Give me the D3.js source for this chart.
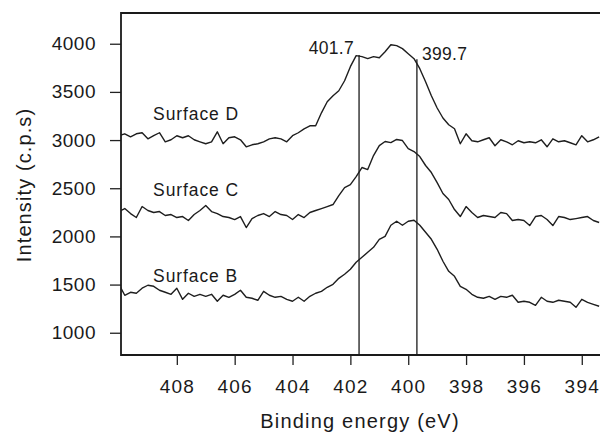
<!DOCTYPE html>
<html>
<head>
<meta charset="utf-8">
<script src="https://cdn.jsdelivr.net/npm/d3@7"></script>
<style>
  body { margin: 0; background: #fff; }
  text { font-family: "Liberation Sans", Arial, sans-serif; fill: #1a1a1a; }
</style>
</head>
<body>
<svg id="chart" width="600" height="434"></svg>
<script>
// Data (binding energy in eV, intensity in c.p.s)
var energy = [410.0, 409.8, 409.6, 409.4, 409.2, 409.0, 408.8, 408.6, 408.4, 408.2,
  408.0, 407.8, 407.6, 407.4, 407.2, 407.0, 406.8, 406.6, 406.4, 406.2,
  406.0, 405.8, 405.6, 405.4, 405.2, 405.0, 404.8, 404.6, 404.4, 404.2,
  404.0, 403.8, 403.6, 403.4, 403.2, 403.0, 402.8, 402.6, 402.4, 402.2,
  402.0, 401.8, 401.6, 401.4, 401.2, 401.0, 400.8, 400.6, 400.4, 400.2,
  400.0, 399.8, 399.6, 399.4, 399.2, 399.0, 398.8, 398.6, 398.4, 398.2,
  398.0, 397.8, 397.6, 397.4, 397.2, 397.0, 396.8, 396.6, 396.4, 396.2,
  396.0, 395.8, 395.6, 395.4, 395.2, 395.0, 394.8, 394.6, 394.4, 394.2,
  394.0, 393.8, 393.6, 393.4]

var surfaceD = [3045, 3065, 3034, 3065, 3076, 3013, 3045, 3076, 2982, 3003,
  3045, 3024, 3045, 3003, 2982, 2962, 2982, 3086, 2962, 3024,
  3034, 3003, 2930, 2951, 2962, 2982, 3013, 3024, 3013, 2982,
  3045, 3076, 3117, 3148, 3148, 3283, 3398, 3460, 3512, 3616,
  3762, 3876, 3866, 3845, 3866, 3855, 3917, 3990, 3980, 3949,
  3897, 3845, 3741, 3606, 3460, 3333, 3229, 3159, 3117, 2962,
  3065, 2993, 2982, 3003, 3024, 2941, 3003, 2982, 2951, 2993,
  2972, 2982, 2972, 3003, 2930, 3013, 2982, 2993, 2972, 2951,
  3045, 2982, 3003, 3034]

var surfaceC = [2258, 2289, 2237, 2196, 2310, 2269, 2248, 2258, 2217, 2227,
  2196, 2206, 2165, 2227, 2269, 2320, 2258, 2237, 2206, 2196,
  2175, 2206, 2092, 2185, 2217, 2237, 2206, 2258, 2227, 2217,
  2175, 2227, 2196, 2248, 2269, 2289, 2310, 2331, 2424, 2507,
  2538, 2621, 2715, 2694, 2839, 2943, 2985, 2974, 3006, 2995,
  2912, 2881, 2829, 2736, 2663, 2559, 2445, 2383, 2279, 2206,
  2310, 2248, 2196, 2217, 2206, 2196, 2248, 2237, 2165, 2175,
  2165, 2113, 2206, 2217, 2175, 2113, 2206, 2196, 2175, 2185,
  2196, 2206, 2165, 2144]

var surfaceB = [1503, 1389, 1420, 1410, 1462, 1493, 1482, 1441, 1420, 1399,
  1462, 1347, 1410, 1378, 1399, 1378, 1399, 1327, 1389, 1368,
  1399, 1441, 1368, 1358, 1337, 1430, 1389, 1368, 1378, 1347,
  1327, 1368, 1327, 1378, 1410, 1430, 1472, 1503, 1565, 1607,
  1659, 1731, 1783, 1835, 1887, 1970, 2001, 2116, 2157, 2116,
  2157, 2168, 2116, 2043, 1970, 1866, 1742, 1638, 1586, 1482,
  1451, 1399, 1368, 1358, 1378, 1347, 1378, 1368, 1389, 1316,
  1327, 1316, 1285, 1368, 1327, 1316, 1337, 1327, 1316, 1264,
  1347, 1316, 1295, 1275]

var xTicks = [408, 406, 404, 402, 400, 398, 396, 394]
var yTicks = [1000, 1500, 2000, 2500, 3000, 3500, 4000]

// curve labels
var labelNames = ['Surface D', 'Surface C', 'Surface B']
var labelEnergy = [408.82, 408.82, 408.82]
var labelIntensity = [3211, 2424, 1527]

// peak markers
var peakEnergy = [401.7, 399.7]
var peakTop = [3883, 3838]
var peakText = ['401.7', '399.7']
var peakTextY = [3893, 3831]

var svg = d3.select('#chart')
var plotLeft = 121, plotRight = 600, plotTop = 13, plotBottom = 355

var x = d3.scaleLinear().domain([409.93, 393.37]).range([plotLeft, plotRight])
var y = d3.scaleLinear().domain([769, 4319]).range([plotBottom, plotTop])

svg.append('clipPath').attr('id', 'plot-clip')
  .append('rect')
  .attr('x', plotLeft).attr('y', plotTop)
  .attr('width', plotRight - plotLeft).attr('height', plotBottom - plotTop)

// Axes
var yAxis = d3.axisLeft(y).tickValues(yTicks).tickFormat(d3.format('d'))
  .tickSize(11).tickSizeOuter(0).tickPadding(14)
var gy = svg.append('g').attr('transform', 'translate(' + plotLeft + ',0)').call(yAxis)
gy.select('.domain').remove()
gy.selectAll('line').attr('stroke', '#222').attr('stroke-width', 1.3)
gy.selectAll('text').attr('font-size', 19).attr('letter-spacing', 0.5).style('fill', '#1a1a1a')
  .attr('font-family', '"Liberation Sans", Arial, sans-serif')

var xAxis = d3.axisBottom(x).tickValues(xTicks).tickFormat(d3.format('d'))
  .tickSize(10).tickSizeOuter(0).tickPadding(15)
var gx = svg.append('g').attr('transform', 'translate(0,' + plotBottom + ')').call(xAxis)
gx.select('.domain').remove()
gx.selectAll('line').attr('stroke', '#222').attr('stroke-width', 1.3)
gx.selectAll('text').attr('font-size', 19).attr('letter-spacing', 1.2).style('fill', '#1a1a1a')
  .attr('font-family', '"Liberation Sans", Arial, sans-serif')

// Frame (left, top, bottom - right side runs off the page)
svg.append('path')
  .attr('d', 'M' + plotRight + ',' + plotTop + 'H' + plotLeft + 'V' + plotBottom + 'H' + plotRight)
  .attr('fill', 'none')
  .attr('stroke', '#1a1a1a')
  .attr('stroke-width', 1.8)

// Spectra
var line = d3.line()
  .x(function(d, i) { return x(energy[i]) })
  .y(function(d) { return y(d) })

var curves = svg.append('g').attr('clip-path', 'url(#plot-clip)')
;[surfaceD, surfaceC, surfaceB].forEach(function(series) {
  curves.append('path')
    .datum(series)
    .attr('d', line)
    .attr('fill', 'none')
    .attr('stroke', '#1e1e1e')
    .attr('stroke-width', 1.4)
    .attr('stroke-linejoin', 'round')
})

// Peak marker lines
for (var i = 0; i < peakEnergy.length; i++) {
  svg.append('line')
    .attr('x1', x(peakEnergy[i])).attr('x2', x(peakEnergy[i]))
    .attr('y1', y(peakTop[i])).attr('y2', plotBottom)
    .attr('stroke', '#1a1a1a')
    .attr('stroke-width', 1.3)
  svg.append('text')
    .attr('x', i === 0 ? x(peakEnergy[i]) - 5 : x(peakEnergy[i]) + 5)
    .attr('y', y(peakTextY[i]))
    .attr('text-anchor', i === 0 ? 'end' : 'start')
    .attr('font-size', 17.5)
    .attr('letter-spacing', 0.3)
    .text(peakText[i])
}

// Surface labels
for (var j = 0; j < labelNames.length; j++) {
  svg.append('text')
    .attr('x', x(labelEnergy[j]))
    .attr('y', y(labelIntensity[j]))
    .attr('font-size', 17.5)
    .attr('letter-spacing', 0.9)
    .text(labelNames[j])
}

// Axis titles
svg.append('text')
  .attr('x', 360).attr('y', 428)
  .attr('text-anchor', 'middle')
  .attr('font-size', 20)
  .attr('letter-spacing', 1.2)
  .text('Binding energy (eV)')

svg.append('text')
  .attr('transform', 'translate(31,185) rotate(-90)')
  .attr('text-anchor', 'middle')
  .attr('font-size', 20)
  .attr('letter-spacing', 1.1)
  .text('Intensity (c.p.s)')
</script>
</body>
</html>
